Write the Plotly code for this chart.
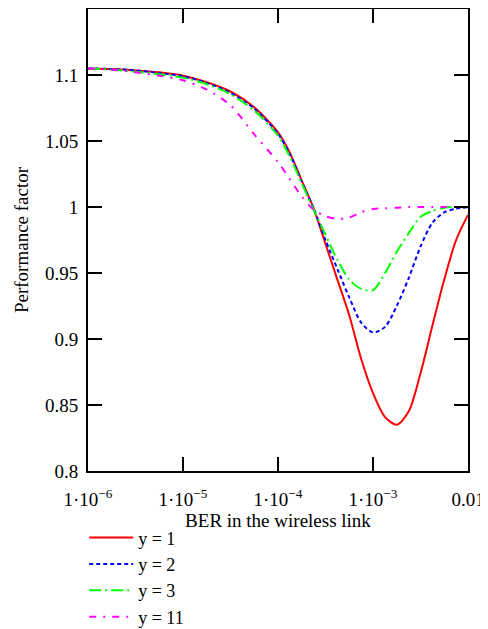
import plotly.graph_objects as go

ber_exponents = [-6, -5.75, -5.5, -5.25, -5, -4.75, -4.5, -4.25, -4, -3.875, -3.75, -3.625,
                 -3.5, -3.375, -3.25, -3.125, -3, -2.875, -2.75, -2.625, -2.5, -2.375, -2.25, -2.125, -2]
ber = [10 ** e for e in ber_exponents]

y1 = [1.105, 1.1045, 1.1035, 1.102, 1.0995, 1.0945, 1.0875, 1.0755, 1.0565, 1.041, 1.020, 0.999,
      0.972, 0.945, 0.918, 0.885, 0.859, 0.841, 0.835, 0.845, 0.874, 0.910, 0.945, 0.975, 0.994]
y2 = [1.105, 1.1045, 1.1035, 1.1015, 1.099, 1.094, 1.0865, 1.0745, 1.0555, 1.040, 1.019, 0.999,
      0.975, 0.953, 0.9315, 0.9125, 0.905, 0.909, 0.925, 0.946, 0.970, 0.988, 0.996, 0.9987, 0.9998]
y3 = [1.105, 1.104, 1.1025, 1.1005, 1.098, 1.093, 1.0855, 1.073, 1.054, 1.038, 1.018, 0.998,
      0.979, 0.960, 0.945, 0.938, 0.937, 0.9497, 0.966, 0.980, 0.9925, 0.997, 0.9995, 1.0, 1.0]
y11 = [1.105, 1.104, 1.102, 1.0995, 1.096, 1.089, 1.077, 1.055, 1.034, 1.021, 1.008, 0.998,
       0.993, 0.991, 0.992, 0.996, 0.9985, 0.999, 0.9995, 1.0, 1.0, 1.0, 1.0, 1.0, 1.0]

series_names = ["y = 1", "y = 2", "y = 3", "y = 11"]
series_values = [y1, y2, y3, y11]
series_colors = ["#ff0000", "#0000ff", "#00ff00", "#ff00ff"]
series_dash = ["solid", "4px,3px", "12px,4px,2px,4px", "7px,7px,2px,7px"]

x_tick_vals = [1e-6, 1e-5, 1e-4, 1e-3, 1e-2]
x_tick_text = ["1·10<sup>−6</sup>", "1·10<sup>−5</sup>", "1·10<sup>−4</sup>", "1·10<sup>−3</sup>", "0.01"]
y_tick_vals = [0.8, 0.85, 0.9, 0.95, 1.0, 1.05, 1.1]
y_tick_text = ["0.8", "0.85", "0.9", "0.95", "1", "1.05", "1.1"]

FONT = "Liberation Serif, Times New Roman, serif"

fig = go.Figure()
for name, vals, col, dash in zip(series_names, series_values, series_colors, series_dash):
    fig.add_trace(go.Scatter(x=ber, y=vals, mode="lines", name=name,
                             line=dict(color=col, width=2, dash=dash, shape="spline", smoothing=0.8)))

fig.update_layout(
    width=480, height=621,
    margin=dict(l=80, r=20, t=1, b=158, autoexpand=False),
    paper_bgcolor="white", plot_bgcolor="white",
    font=dict(family=FONT, size=19, color="black"),
    showlegend=True,
    legend=dict(x=-0.01, xanchor="left", y=-0.1046, yanchor="top",
                font=dict(family=FONT, size=18, color="black"),
                itemwidth=44,
                bgcolor="rgba(0,0,0,0)", tracegroupgap=0),
    xaxis=dict(type="log", range=[-6, -2], tickvals=x_tick_vals, ticktext=x_tick_text,
               ticks="inside", ticklen=14, tickwidth=2, tickcolor="black",
               showline=True, linecolor="black", linewidth=2, mirror="ticks",
               showgrid=False, zeroline=False, automargin=False,
               ticklabelstandoff=10,
               tickfont=dict(family=FONT, size=19),
               title=dict(text="BER in the wireless link", standoff=4,
                          font=dict(family=FONT, size=19))),
    yaxis=dict(range=[0.8, 1.15], tickvals=y_tick_vals, ticktext=y_tick_text,
               ticks="inside", ticklen=14, tickwidth=2, tickcolor="black",
               showline=True, linecolor="black", linewidth=2, mirror="ticks",
               showgrid=False, zeroline=False, automargin=False,
               ticklabelstandoff=4,
               tickfont=dict(family=FONT, size=19),
               title=dict(text="Performance factor", standoff=11,
                          font=dict(family=FONT, size=19))),
)

fig.write_html("out.html")
